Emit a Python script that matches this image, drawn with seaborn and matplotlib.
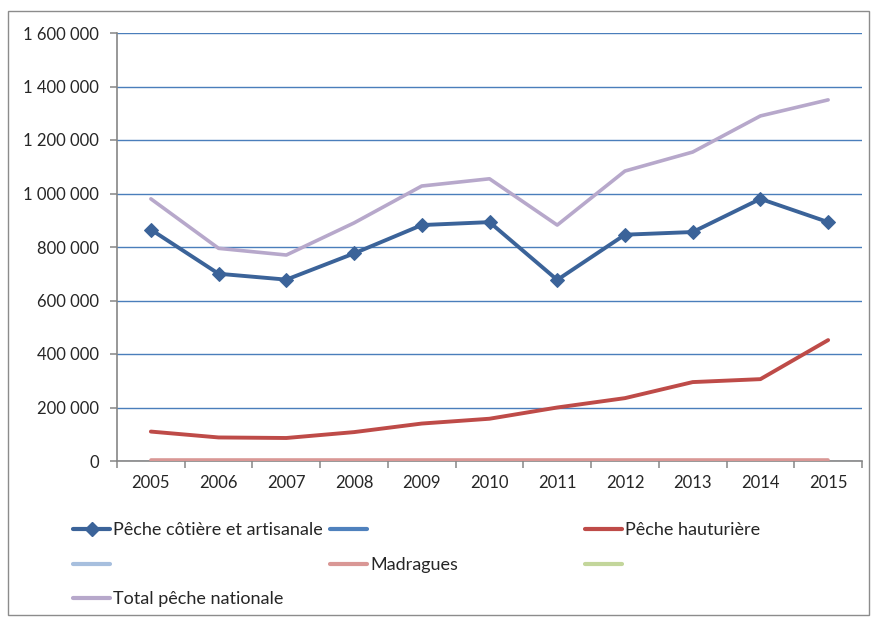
import matplotlib
matplotlib.use("Agg")
import matplotlib.pyplot as plt
from matplotlib.lines import Line2D
from matplotlib.patches import Rectangle
from matplotlib.ticker import FuncFormatter, MultipleLocator
import seaborn as sns
import pandas as pd

years = [2005, 2006, 2007, 2008, 2009, 2010, 2011, 2012, 2013, 2014, 2015]
cotiere = [865000, 700000, 678000, 776000, 882000, 893000, 677000, 846000, 856000, 980000, 893000]
hauturiere = [110000, 88000, 86000, 108000, 140000, 158000, 200000, 235000, 295000, 306000, 452000]
madragues = [3000, 3000, 3000, 3000, 3000, 3000, 3000, 3000, 3000, 3000, 3000]
total = [980000, 795000, 770000, 890000, 1028000, 1055000, 882000, 1084000, 1155000, 1290000, 1350000]

labels = {
    "cot": "Pêche côtière et artisanale",
    "hau": "Pêche hauturière",
    "mad": "Madragues",
    "tot": "Total pêche nationale",
}
colors = {
    "cot": "#3B6399",
    "blue": "#4F81BD",
    "hau": "#BE4B48",
    "lblue": "#A7BFDE",
    "mad": "#D99795",
    "green": "#C3D69B",
    "tot": "#B7A8CB",
}

sns.set_theme(style="white")
plt.rcParams["font.family"] = ["Lato", "DejaVu Sans"]

fig = plt.figure(figsize=(8.76, 6.19), dpi=100)
ax = fig.add_axes([117 / 876, 1 - 461 / 619, (862 - 117) / 876, 428 / 619])

df_cot = pd.DataFrame({"year": years, "v": cotiere})
df_hau = pd.DataFrame({"year": years, "v": hauturiere})
df_mad = pd.DataFrame({"year": years, "v": madragues})
df_tot = pd.DataFrame({"year": years, "v": total})

sns.lineplot(data=df_mad, x="year", y="v", ax=ax, color=colors["mad"], lw=2.6, zorder=3)
sns.lineplot(data=df_hau, x="year", y="v", ax=ax, color=colors["hau"], lw=2.8, zorder=4)
sns.lineplot(data=df_tot, x="year", y="v", ax=ax, color=colors["tot"], lw=2.6, zorder=4)
sns.lineplot(data=df_cot, x="year", y="v", ax=ax, color=colors["cot"], lw=2.8,
             marker="D", markersize=7.5, markeredgecolor=colors["cot"], zorder=5)

ax.set_xlim(2004.5, 2015.5)
ax.set_ylim(0, 1600000)
ax.set_xlabel("")
ax.set_ylabel("")

ax.yaxis.set_major_locator(MultipleLocator(200000))
ax.yaxis.set_major_formatter(FuncFormatter(lambda v, p: f"{int(v):,}".replace(",", " ")))
ax.set_xticks(years)
ax.set_xticklabels([str(y) for y in years])
ax.set_xticks([y - 0.5 for y in years] + [2015.5], minor=True)

ax.grid(axis="y", color="#4A7EBB", lw=1.0)
ax.grid(axis="x", visible=False)
ax.set_axisbelow(True)

for s in ["top", "right"]:
    ax.spines[s].set_visible(False)
for s in ["left", "bottom"]:
    ax.spines[s].set_color("#868686")
    ax.spines[s].set_linewidth(1.2)
    ax.spines[s].set_zorder(2.5)

ax.tick_params(axis="y", which="major", length=5, width=1.1, color="#868686",
               labelsize=12, pad=8, left=True)
ax.tick_params(axis="x", which="major", length=0, labelsize=12, pad=10)
ax.tick_params(axis="x", which="minor", length=5, width=1.1, color="#868686", bottom=True)

def h(key, marker=None):
    kw = dict(color=colors[key], lw=3)
    if marker:
        kw.update(marker=marker, markersize=7.5, markeredgecolor=colors[key])
    return Line2D([0], [0], **kw)

leg_kw = dict(frameon=False, fontsize=13, handlelength=2.05, handletextpad=0.15,
              labelspacing=1.03, loc="upper left", borderaxespad=0)
anchor_y = 1 - 515 / 619
col1 = fig.legend([h("cot", "D"), h("lblue"), h("tot")],
                  [labels["cot"], "", labels["tot"]],
                  bbox_to_anchor=(66 / 876, anchor_y), **leg_kw)
col2 = fig.legend([h("blue"), h("mad")], ["", labels["mad"]],
                  bbox_to_anchor=(323 / 876, anchor_y), **leg_kw)
col3 = fig.legend([h("hau"), h("green")], [labels["hau"], ""],
                  bbox_to_anchor=(578 / 876, anchor_y), **leg_kw)

fig.add_artist(Rectangle((8 / 876, 4 / 619), 861 / 876, 604 / 619,
                         transform=fig.transFigure, fill=False,
                         edgecolor="#8C8C8C", lw=1.0))

fig.savefig("out.png", dpi=100)
